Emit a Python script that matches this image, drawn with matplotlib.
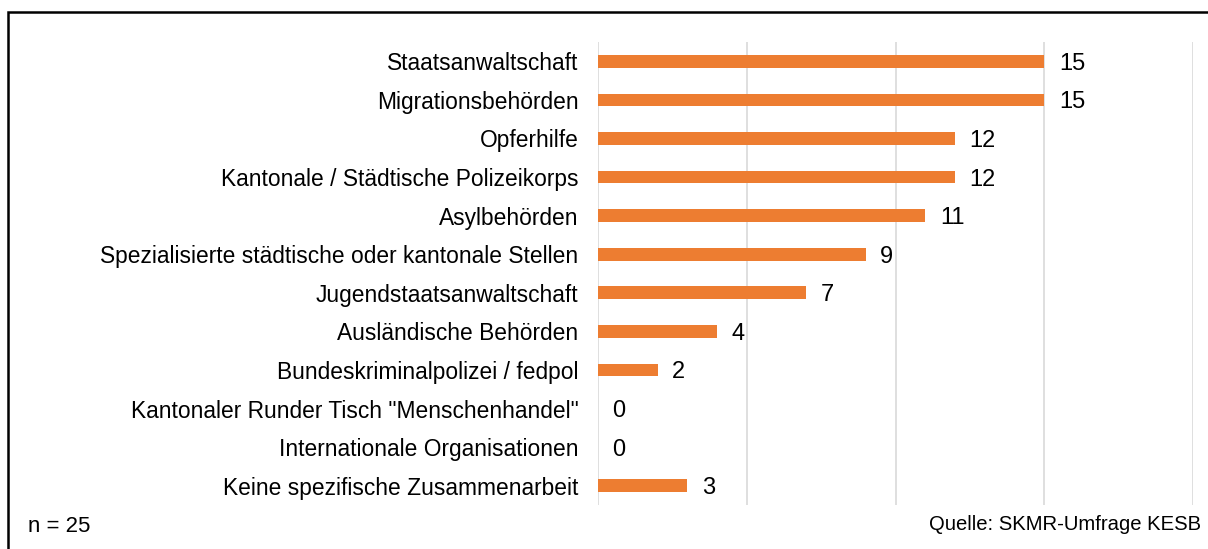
import matplotlib.pyplot as plt
from matplotlib.patches import Rectangle

plt.rcParams['font.family'] = ['Liberation Sans', 'DejaVu Sans']

categories = ['Staatsanwaltschaft', 'Migrationsbehörden', 'Opferhilfe',
              'Kantonale / Städtische Polizeikorps', 'Asylbehörden',
              'Spezialisierte städtische oder kantonale Stellen',
              'Jugendstaatsanwaltschaft', 'Ausländische Behörden',
              'Bundeskriminalpolizei / fedpol',
              'Kantonaler Runder Tisch "Menschenhandel"',
              'Internationale Organisationen',
              'Keine spezifische Zusammenarbeit']
values = [15, 15, 12, 12, 11, 9, 7, 4, 2, 0, 0, 3]

W, H = 1208, 549
fig = plt.figure(figsize=(W / 100, H / 100), dpi=100)
ax = fig.add_axes([598 / W, 1 - 505 / H, (1193 - 598) / W, (505 - 42) / H])

ypos = list(range(len(categories)))
ax.barh(ypos, values, height=0.33, color='#ED7D31')
ax.set_ylim(len(categories) - 0.5, -0.5)
ax.set_xlim(0, 20)
ax.set_xticks([0, 5, 10, 15, 20])
ax.set_xticklabels([])
ax.set_yticks(ypos)
ax.set_yticklabels(categories, fontsize=16.4)
ax.tick_params(length=0, axis='both', pad=14)
ax.grid(axis='x', color='#D9D9D9', lw=1.2)
ax.set_axisbelow(True)
for s in ax.spines.values():
    s.set_visible(False)

for y, v in zip(ypos, values):
    ax.annotate(str(v), (v, y), xytext=(10.5, -1.8), textcoords='offset points',
                va='center', ha='left', fontsize=17)

fig.text(28 / W, 1 - 527 / H, 'n = 25', fontsize=16, va='center', ha='left')
fig.text(1201 / W, 1 - 525 / H, 'Quelle: SKMR-Umfrage KESB', fontsize=14.6,
         va='center', ha='right')

fig.add_artist(Rectangle((8 / W, -0.2), 1.5, 1.2 - 12 / H, transform=fig.transFigure,
                         fill=False, ec='black', lw=1.8))

fig.savefig('out.png', dpi=100)
